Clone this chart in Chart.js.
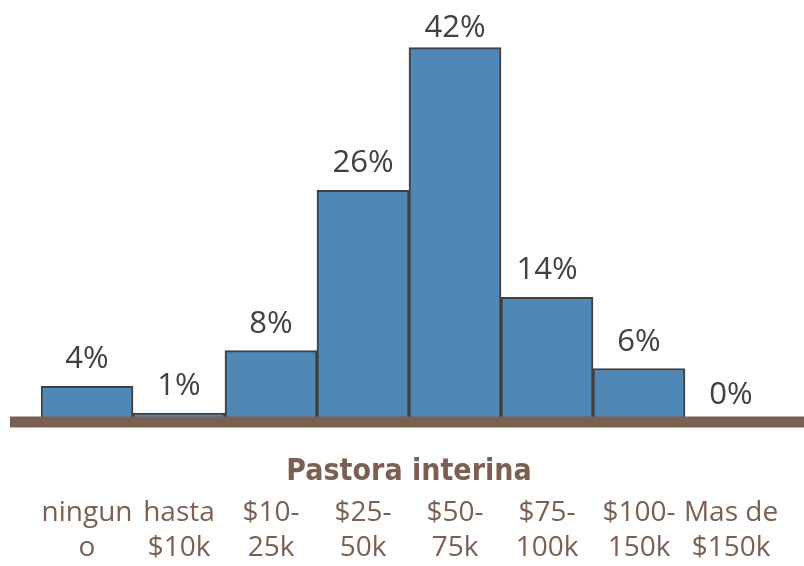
<!DOCTYPE html>
<html>
<head>
<meta charset="utf-8">
<script src="https://cdn.jsdelivr.net/npm/chart.js@4"></script>
<style>
  html, body { margin: 0; padding: 0; background: #fff; }
  #wrap { width: 804px; height: 566px; }
</style>
</head>
<body>
<div id="wrap"><canvas id="chart"></canvas></div>
<script>
var categories = [
    ['ningun', 'o'], ['hasta', '$10k'], ['$10-', '25k'], ['$25-', '50k'],
    ['$50-', '75k'], ['$75-', '100k'], ['$100-', '150k'], ['Mas de', '$150k']
];
var values = [4, 1, 8, 26, 42, 14, 6, 0];
var axisTitle = 'Pastora interina';

var brown = '#7b5f53';

// value labels above each bar, kept inside the top of the canvas
var barLabels = {
    id: 'barLabels',
    afterDatasetsDraw: function(chart) {
        var ctx = chart.ctx;
        var meta = chart.getDatasetMeta(0);
        var minY = chart.chartArea.top + 25;
        ctx.save();
        ctx.font = '31px "Open Sans", sans-serif';
        ctx.fillStyle = '#404040';
        ctx.textAlign = 'center';
        ctx.textBaseline = 'alphabetic';
        meta.data.forEach(function(bar, i) {
            ctx.fillText(values[i] + '%', bar.x, Math.max(bar.y - 18, minY));
        });
        ctx.restore();
    }
};

// thick brown base line across the chart
var baseLine = {
    id: 'baseLine',
    afterDatasetsDraw: function(chart) {
        var ctx = chart.ctx;
        var y = chart.scales.y.getPixelForValue(0);
        ctx.save();
        ctx.fillStyle = brown;
        ctx.fillRect(chart.chartArea.left - 31, y - 5.5, chart.width, 11);
        ctx.restore();
    }
};

new Chart(document.getElementById('chart'), {
    type: 'bar',
    data: {
        labels: categories,
        datasets: [{
            data: values,
            backgroundColor: '#4f88b7',
            borderColor: '#404040',
            borderWidth: 2,
            barPercentage: 1,
            categoryPercentage: 1
        }]
    },
    options: {
        responsive: true,
        maintainAspectRatio: false,
        animation: false,
        layout: { padding: { left: 41, right: 27, top: 12, bottom: 0 } },
        plugins: {
            legend: { display: false },
            tooltip: { enabled: false }
        },
        scales: {
            y: { display: false, min: 0, max: 46 },
            x: {
                weight: 1,
                grid: { display: false },
                border: { display: false },
                ticks: {
                    color: brown,
                    font: { family: '"Open Sans", sans-serif', size: 28, lineHeight: 1.25 },
                    maxRotation: 0,
                    autoSkip: false,
                    padding: 0
                }
            },
            x2: {
                type: 'category',
                position: 'bottom',
                weight: 0,
                labels: categories,
                grid: { display: false },
                border: { display: false },
                ticks: { display: false },
                title: {
                    display: true,
                    text: axisTitle,
                    color: brown,
                    font: { family: '"DejaVu Sans Condensed", sans-serif', size: 30, weight: 'bold' },
                    padding: { top: 24, bottom: -2 }
                }
            }
        }
    },
    plugins: [baseLine, barLabels]
});
</script>
</body>
</html>
